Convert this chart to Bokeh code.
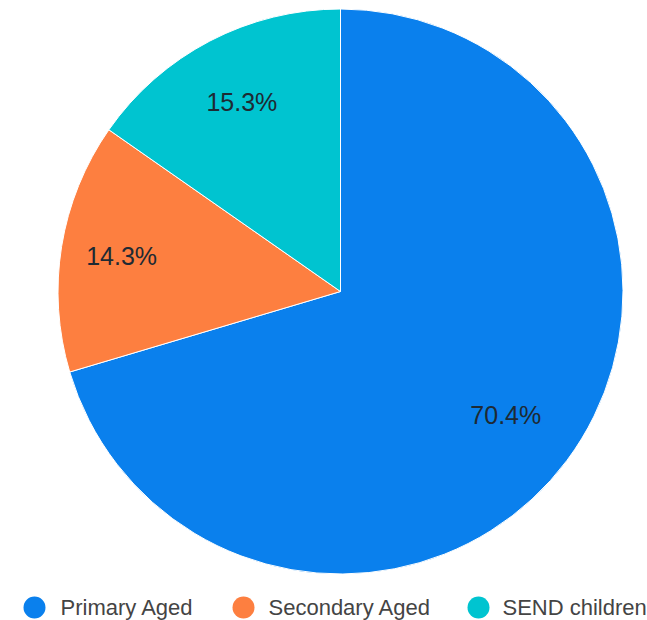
import numpy as np
from bokeh.plotting import figure
from bokeh.models import Range1d, ColumnDataSource
from bokeh.core.properties import value
from bokeh.embed import file_html
from bokeh.resources import INLINE

# ---- data ----
categories = ["Primary Aged", "Secondary Aged", "SEND children"]
shares = [70.4, 14.3, 15.3]
colors = ["#0a80ed", "#fd7f40", "#00c4d0"]

# ---- layout / style ----
W, H = 647, 620
cx, cy, R = 340, 329, 282.5
label_frac = [0.73, 0.785, 0.755]
legend_marker_x = [34, 243, 478]
legend_text_x = [60, 268, 502]
legend_y = 13
FONT = "Liberation Sans"

vals = np.array(shares, dtype=float)
frac = vals / vals.sum()
cum = np.concatenate([[0.0], np.cumsum(frac)])
start = np.pi / 2 - 2 * np.pi * cum[:-1]
end = np.pi / 2 - 2 * np.pi * cum[1:]
mid = 2 * np.pi * (cum[:-1] + cum[1:]) / 2  # clockwise from top

lx = [cx + R * f * np.sin(m) for f, m in zip(label_frac, mid)]
ly = [cy + R * f * np.cos(m) for f, m in zip(label_frac, mid)]

src = ColumnDataSource(dict(
    cat=categories, start=list(start), end=list(end), color=colors,
    lx=lx, ly=ly, lab=[f"{v:.1f}%" for v in shares],
))

p = figure(width=W, height=H, output_backend="svg", toolbar_location=None,
           x_axis_type=None, y_axis_type=None, min_border=0,
           x_range=Range1d(0, W), y_range=Range1d(0, H))
p.outline_line_color = None
p.xgrid.visible = False
p.ygrid.visible = False
p.background_fill_color = "white"
p.border_fill_color = "white"

p.wedge(x=cx, y=cy, radius=R, start_angle="start", end_angle="end",
        direction="clock", fill_color="color", line_color="white",
        line_width=1, source=src)

p.text(x="lx", y="ly", text="lab", source=src, text_align="center",
       text_baseline="middle", text_font=value(FONT),
       text_font_size="25px", text_color="#1e2a33")

leg = ColumnDataSource(dict(mx=legend_marker_x, tx=legend_text_x,
                            y=[legend_y] * 3, cat=categories, color=colors))
p.scatter(x="mx", y="y", size=22, marker="circle", fill_color="color",
          line_color=None, source=leg)
p.text(x="tx", y="y", text="cat", source=leg, text_align="left",
       text_baseline="middle", text_font=value(FONT),
       text_font_size="22px", text_color="#444444")

open("out.html", "w").write(file_html(p, INLINE))
